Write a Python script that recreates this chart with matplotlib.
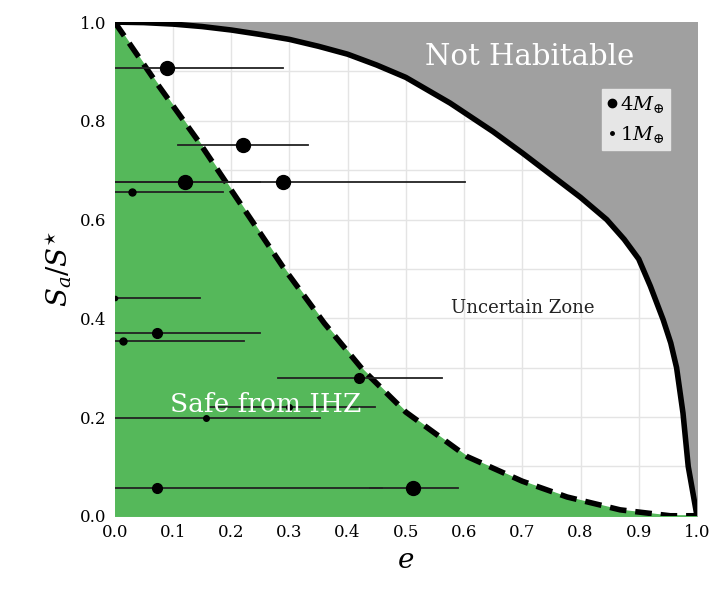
import numpy as np
import matplotlib.pyplot as plt

plt.rcParams['font.family'] = 'DejaVu Serif'
plt.rcParams['mathtext.fontset'] = 'dejavuserif'

# Boundary curves
safe_e = [0, 0.07, 0.146, 0.2, 0.289, 0.36, 0.426, 0.5, 0.605, 0.7, 0.777, 0.868, 0.954, 1.0]
safe_s = [1, 0.88, 0.755, 0.66, 0.504, 0.39, 0.296, 0.21, 0.12, 0.07, 0.038, 0.012, 0, 0]
hab_e = [0, 0.05, 0.1, 0.15, 0.2, 0.25, 0.3, 0.35, 0.4, 0.45, 0.5, 0.576, 0.65, 0.7, 0.75,
         0.8, 0.845, 0.875, 0.9, 0.92, 0.942, 0.955, 0.965, 0.976, 0.985, 1.0]
hab_s = [1, 0.999, 0.996, 0.991, 0.984, 0.975, 0.965, 0.951, 0.935, 0.913, 0.888, 0.836, 0.778,
         0.735, 0.69, 0.645, 0.6, 0.56, 0.52, 0.465, 0.397, 0.35, 0.3, 0.208, 0.1, 0]

# Planets: e, S, e-range low/high, marker size
pl_e = [0.089, 0.22, 0.12, 0.289, 0.029, 0.0, 0.072, 0.015, 0.419, 0.299, 0.156, 0.072, 0.512]
pl_s = [0.907, 0.751, 0.676, 0.676, 0.656, 0.441, 0.37, 0.354, 0.279, 0.221, 0.198, 0.057, 0.057]
pl_lo = [0.0, 0.108, 0.0, 0.0, 0.0, 0.0, 0.0, 0.0, 0.28, 0.163, 0.0, 0.0, 0.438]
pl_hi = [0.289, 0.332, 0.249, 0.601, 0.186, 0.146, 0.249, 0.222, 0.562, 0.447, 0.352, 0.459, 0.589]
pl_ms = [10, 10, 10, 10, 5, 3, 7, 5, 7, 4, 4, 7, 10]

fig = plt.figure(figsize=(7.26, 6.14), dpi=100)
ax = fig.add_axes([0.158, 0.16, 0.802, 0.804])

ax.fill_between(safe_e, 0, safe_s, color='#55b85a', zorder=1)
ax.fill_between(hab_e, hab_s, 1, color='#a0a0a0', zorder=1)
ax.plot(hab_e, hab_s, color='black', lw=4, zorder=3, solid_joinstyle='round')
ax.plot(safe_e, safe_s, color='black', lw=4, ls=(0, (3, 1.6)), zorder=3)

for e, s, lo, hi, ms in zip(pl_e, pl_s, pl_lo, pl_hi, pl_ms):
    ax.plot([lo, hi], [s, s], color='#222222', lw=1.3, zorder=4)
    ax.plot(e, s, 'o', color='black', ms=ms, zorder=5)

ax.text(0.713, 0.93, 'Not Habitable', color='white', fontsize=21, ha='center', va='center')
ax.text(0.70, 0.42, 'Uncertain Zone', color='#222222', fontsize=13, ha='center', va='center')
ax.text(0.26, 0.225, 'Safe from IHZ', color='white', fontsize=19, ha='center', va='center', zorder=6)

h1, = ax.plot([], [], 'o', color='black', ms=6)
h2, = ax.plot([], [], 'o', color='black', ms=2.5)
leg = ax.legend([h1, h2], [r'$4M_{\oplus}$', r'$1M_{\oplus}$'], loc='upper right',
                bbox_to_anchor=(0.97, 0.885), fontsize=14, handlelength=0.4,
                handletextpad=0.2, fancybox=False, framealpha=1, borderpad=0.3)
leg.get_frame().set_facecolor('#e6e6e6')
leg.get_frame().set_edgecolor('#e6e6e6')

ax.set_xlim(0, 1)
ax.set_ylim(0, 1)
ax.set_xticks(np.arange(0, 1.01, 0.1))
ax.set_yticks(np.arange(0, 1.01, 0.2))
ax.grid(True, color='#e4e4e4', lw=1, zorder=0)
ax.set_yticks(np.arange(0.1, 1.0, 0.2), minor=True)
ax.grid(True, which='minor', axis='y', color='#e4e4e4', lw=1)
ax.set_axisbelow(True)
ax.tick_params(labelsize=12, length=0, pad=6)
ax.tick_params(which='minor', length=0)
for sp in ax.spines.values():
    sp.set_visible(False)

ax.set_xlabel('$e$', fontsize=20)
ax.set_ylabel(r'$S_a/S^{\star}$', fontsize=20)

fig.savefig('out.png', dpi=100)
